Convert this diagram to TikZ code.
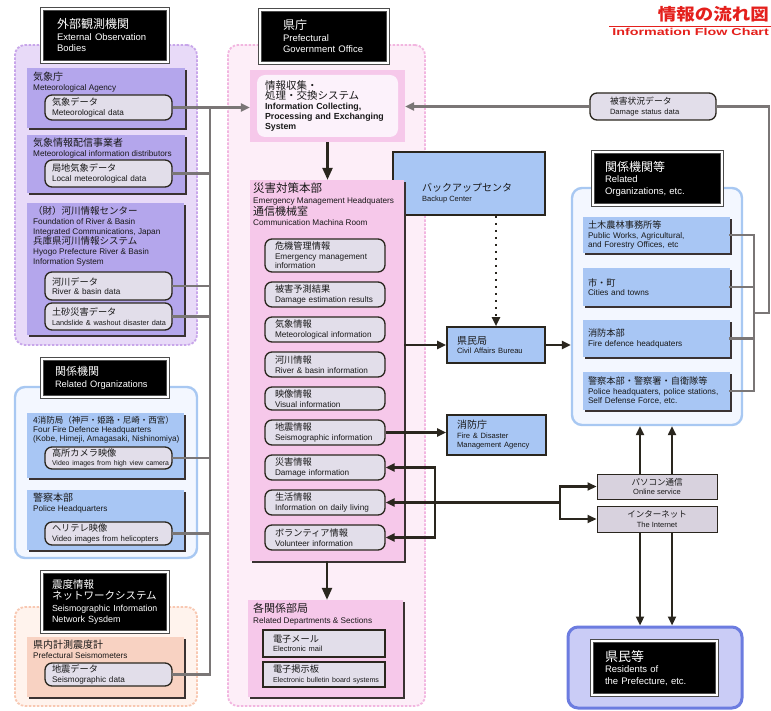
\documentclass[tikz,border=0pt]{standalone}
\usepackage{fontspec}
\usepackage{graphicx}
\setmainfont{Liberation Sans}
\newfontfamily\jpf{Noto Sans CJK JP}
\usetikzlibrary{arrows.meta,shadows}
\definecolor{darkc}{HTML}{2A261E}
\definecolor{greyc}{HTML}{7A7676}
\definecolor{shadowc}{HTML}{3A3232}
\definecolor{pillc}{HTML}{E2DEEA}
\definecolor{purpG}{HTML}{E8DAF8}
\definecolor{purpB}{HTML}{C8A6EA}
\definecolor{purpI}{HTML}{B4A6EC}
\definecolor{blueG}{HTML}{F3F7FF}
\definecolor{blueB}{HTML}{A8C8F2}
\definecolor{blueI}{HTML}{A8C6F4}
\definecolor{peachG}{HTML}{FFF3ED}
\definecolor{peachB}{HTML}{F8C8B2}
\definecolor{peachI}{HTML}{F8D2C2}
\definecolor{pinkG}{HTML}{FDEEF8}
\definecolor{pinkB}{HTML}{F2B6E0}
\definecolor{pinkI}{HTML}{F6C8EA}
\definecolor{pinkL}{HTML}{FCF2FB}
\definecolor{resG}{HTML}{CACCF6}
\definecolor{resB}{HTML}{6C7CE0}
\definecolor{redT}{HTML}{E4201C}
\definecolor{onlc}{HTML}{D8D2DE}
\newcommand{\JJ}[2][9.2]{\mbox{\jpf\mdseries\fontsize{#1}{10}\selectfont #2}}
\newcommand{\EE}[2][8.2]{\mbox{\fontsize{#1}{10}\selectfont #2}}
\tikzset{
 every node/.style={inner sep=0pt, text=black!90, font=\fontsize{8.2}{10}\selectfont},
 grp/.style={rounded corners=10pt, line width=1.8pt},
 grpdash/.style={grp, dash pattern=on 2.5pt off 1.5pt},
 ttl/.style={fill=black, draw=black!70, double=white, double distance=2.4pt, line width=0.9pt, text=white, align=left, font=\fontsize{9.5}{11.5}\selectfont},
 shb/.style={drop shadow={shadow xshift=2pt, shadow yshift=-2pt, fill=shadowc, opacity=1}},
 lbl/.style={anchor=north west, align=left, font=\fontsize{8.2}{10}\selectfont},
 pill/.style={draw=darkc, line width=1.3pt, fill=pillc, rounded corners=7pt, align=left, font=\fontsize{8.2}{9.5}\selectfont},
 lp/.style={pill, minimum width=127, minimum height=25, text width=113},
 hp/.style={pill, minimum width=120, minimum height=25, text width=100},
 rbx/.style={draw=darkc, line width=1.1pt, fill=pillc, align=left, drop shadow={shadow xshift=1pt, shadow yshift=-1pt, fill=shadowc, opacity=1}, font=\fontsize{8.2}{9.5}\selectfont},
 rb/.style={shb, fill=blueI, minimum width=147, text width=137, align=left, font=\fontsize{8.2}{9.5}\selectfont},
 bb/.style={draw=darkc, line width=1.6pt, fill=blueI, align=left, font=\fontsize{8.2}{9.5}\selectfont},
 gline/.style={draw=greyc, line width=2.2pt, line cap=rect},
 garr/.style={draw=greyc, line width=2.2pt, -{Triangle[length=9pt,width=8pt]}},
 dline/.style={draw=darkc, line width=2.2pt, line cap=rect},
 darr/.style={draw=darkc, line width=2.2pt, -{Triangle[length=9pt,width=8pt]}},
 bigarr/.style={draw=darkc, line width=2.4pt, -{Triangle[length=12pt,width=10pt]}},
}
\begin{document}
\begin{tikzpicture}[x=1pt,y=-1pt]
\useasboundingbox (0,0) rectangle (771,711);
\clip (0,0) rectangle (771,711);
\fill[white] (0,0) rectangle (771,711);

% ---------- groups ----------
\node[grpdash, draw=purpB, fill=purpG, minimum width=182, minimum height=300] (gA) at (106,195) {};
\node[grp, draw=blueB, fill=blueG, line width=2.4pt, minimum width=182, minimum height=171] (gB) at (106,472.5) {};
\node[grpdash, draw=peachB, fill=peachG, minimum width=182, minimum height=99] (gC) at (106,656.5) {};
\node[grpdash, draw=pinkB, fill=pinkG, minimum width=197, minimum height=661] (gP) at (326.5,375.5) {};
\node[grp, draw=blueB, fill=blueG, line width=2.4pt, minimum width=170, minimum height=237] (gR) at (657,306.5) {};
\node[grp, draw=resB, fill=resG, line width=3pt, minimum width=174, minimum height=81] (gRes) at (655,667.5) {};

% ---------- backup center (under HQ) ----------
\node[bb, minimum width=152, minimum height=63] (bk) at (469,183.5) {};
\node[lbl] (bkt) at (422,183) {\JJ[10]{バックアップセンタ}\\\EE[7.5]{Backup Center}};

% ---------- titles ----------
\node[ttl, minimum width=126, minimum height=53, text width=96] (tA) at (105,35.5) {\JJ[12]{外部観測機関}\\\EE[9.5]{External Observation}\\\EE[9.5]{Bodies}};
\node[ttl, minimum width=126, minimum height=38, text width=100] (tB) at (105,378) {\JJ[11]{関係機関}\\\EE[9.3]{Related Organizations}};
\node[ttl, minimum width=126, minimum height=60, text width=106] (tC) at (105,602) {\JJ[10.5]{震度情報}\\\JJ[10.5]{ネットワークシステム}\\\EE[8.8]{Seismographic Information}\\\EE[9]{Network Sysdem}};
\node[ttl, minimum width=128, minimum height=53, text width=82] (tP) at (324,36.5) {\JJ[12]{県庁}\\\EE[9.5]{Prefectural}\\\EE[9.5]{Government Office}};
\node[ttl, minimum width=129, minimum height=53, text width=105] (tR) at (657.5,178.5) {\JJ[12]{関係機関等}\\\EE[9.5]{Related}\\\EE[9.5]{Organizations, etc.}};
\node[ttl, minimum width=125, minimum height=54, text width=99] (tRes) at (654.5,668) {\JJ[13]{県民等}\\\EE[9.5]{Residents of}\\\EE[9.5]{the Prefecture, etc.}};

% ---------- left: external observation ----------
\node[shb, fill=purpI, minimum width=158, minimum height=60] (a1) at (106,98) {};
\node[lbl] (a1t) at (33,72) {\JJ[10]{気象庁}\\\EE{Meteorological Agency}};
\node[lp] (md) at (108.5,107.5) {\JJ{気象データ}\\\EE{Meteorological data}};
\node[shb, fill=purpI, minimum width=158, minimum height=58] (a2) at (106,164) {};
\node[lbl] (a2t) at (33,138) {\JJ[10]{気象情報配信事業者}\\\EE{Meteorological information distributors}};
\node[lp, minimum height=27] (ld) at (108.5,173.5) {\JJ{局地気象データ}\\\EE{Local meteorological data}};
\node[shb, fill=purpI, minimum width=157, minimum height=132] (a3) at (105.5,269) {};
\node[lbl] (a3t) at (33,206) {\JJ[9.5]{（財）河川情報センター}\\\EE{Foundation of River \& Basin}\\\EE{Integrated Communications, Japan}\\\JJ[9.5]{兵庫県河川情報システム}\\\EE{Hyogo Prefecture River \& Basin}\\\EE{Information System}};
\node[lp, minimum height=28] (rd) at (108.5,286) {\JJ{河川データ}\\\EE{River \& basin data}};
\node[lp, minimum height=27] (ls) at (108.5,316.5) {\JJ{土砂災害データ}\\\EE[7.3]{Landslide \& washout disaster data}};

% ---------- left: related organizations ----------
\node[shb, fill=blueI, minimum width=157, minimum height=65] (b1) at (105.5,445.5) {};
\node[lbl, font=\fontsize{8.2}{9}\selectfont] (b1t) at (33,416) {\JJ[8.5]{4消防局（神戸・姫路・尼崎・西宮）}\\\EE{Four Fire Defence Headquarters}\\\EE{(Kobe, Himeji, Amagasaki, Nishinomiya)}};
\node[lp, minimum height=22] (hc) at (108.5,458) {\JJ{高所カメラ映像}\\\EE[6.9]{Video images from high view camera}};
\node[shb, fill=blueI, minimum width=157, minimum height=60] (b2) at (105.5,520) {};
\node[lbl] (b2t) at (33,493) {\JJ[10]{警察本部}\\\EE{Police Headquarters}};
\node[lp, minimum height=23] (hel) at (108.5,533.5) {\JJ{ヘリテレ映像}\\\EE[7.8]{Video images from helicopters}};

% ---------- left: seismographic ----------
\node[shb, fill=peachI, minimum width=157, minimum height=60] (c1) at (105.5,667) {};
\node[lbl] (c1t) at (33,640) {\JJ[10]{県内計測震度計}\\\EE{Prefectural Seismometers}};
\node[lp, minimum height=23] (sd) at (108.5,674.5) {\JJ{地震データ}\\\EE{Seismographic data}};

% ---------- center ----------
\node[fill=pinkI, minimum width=155, minimum height=72] (info) at (327.5,106) {};
\node[fill=pinkL, rounded corners=8pt, minimum width=141, minimum height=62, text width=125, align=left, font=\bfseries\fontsize{8.8}{10.2}\selectfont] (infot) at (327.5,106) {\JJ[10.5]{情報収集・}\\\JJ[10.5]{処理・交換システム}\\\EE[8.8]{Information Collecting,}\\\EE[8.8]{Processing and Exchanging}\\\EE[8.8]{System}};

\node[shb, fill=pinkI, minimum width=154, minimum height=381] (hq) at (327,370.5) {};
\node[lbl, font=\fontsize{8.2}{10.5}\selectfont] (hqt) at (253,183) {\JJ[11.5]{災害対策本部}\\\EE{Emergency Management Headquaters}\\\JJ[11]{通信機械室}\\\EE{Communication Machina Room}};
\node[hp, minimum height=33] (p1) at (325,255.5) {\JJ{危機管理情報}\\\EE{Emergency management}\\\EE{information}};
\node[hp] (p2) at (325,294.5) {\JJ{被害予測結果}\\\EE{Damage estimation results}};
\node[hp] (p3) at (325,329.5) {\JJ{気象情報}\\\EE{Meteorological information}};
\node[hp] (p4) at (325,364.5) {\JJ{河川情報}\\\EE{River \& basin information}};
\node[hp, minimum height=23] (p5) at (325,398.5) {\JJ{映像情報}\\\EE{Visual information}};
\node[hp] (p6) at (325,432.5) {\JJ{地震情報}\\\EE{Seismographic information}};
\node[hp] (p7) at (325,467.5) {\JJ{災害情報}\\\EE{Damage information}};
\node[hp] (p8) at (325,502.5) {\JJ{生活情報}\\\EE{Information on daily living}};
\node[hp] (p9) at (325,537.5) {\JJ{ボランティア情報}\\\EE{Volunteer information}};

\node[shb, fill=pinkI, minimum width=155, minimum height=97] (dp) at (325.5,648.5) {};
\node[lbl, font=\fontsize{8.2}{10.5}\selectfont] (dpt) at (253,603) {\JJ[11]{各関係部局}\\\EE{Related Departments \& Sections}};
\node[rbx, minimum width=122, minimum height=27, text width=102] (em) at (324,643.5) {\JJ{電子メール}\\\EE[7.5]{Electronic mail}};
\node[rbx, minimum width=122, minimum height=25, text width=102] (eb) at (324,674.5) {\JJ{電子掲示板}\\\EE[7.1]{Electronic bulletin board systems}};

% ---------- right ----------
\node[bb, minimum width=98, minimum height=36, text width=78] (cv) at (496,345) {\JJ[10]{県民局}\\\EE[7.6]{Civil Affairs Bureau}};
\node[bb, minimum width=99, minimum height=40, text width=79] (fd) at (496.5,435) {\JJ[10]{消防庁}\\\EE[7.6]{Fire \& Disaster}\\\EE[7.6]{Management Agency}};
\node[pill, minimum width=126, minimum height=27, text width=86] (dmg) at (653,106.5) {\JJ[8.8]{被害状況データ}\\\EE[7.6]{Damage status data}};

\node[rb, minimum height=36] (r1) at (656.5,235) {\JJ{土木農林事務所等}\\\EE{Public Works, Agricultural,}\\\EE{and Forestry Offices, etc}};
\node[rb, minimum height=38] (r2) at (656.5,287) {\JJ{市・町}\\\EE{Cities and towns}};
\node[rb, minimum height=37] (r3) at (656.5,338.5) {\JJ{消防本部}\\\EE{Fire defence headquaters}};
\node[rb, minimum height=38] (r4) at (656.5,391) {\JJ{警察本部・警察署・自衛隊等}\\\EE{Police headquaters, police stations,}\\\EE{Self Defense Force, etc.}};

\node[draw=darkc, line width=1pt, fill=onlc, minimum width=120, minimum height=25, align=center, font=\fontsize{8}{9.5}\selectfont] (on) at (657,486.5) {\JJ[8.5]{パソコン通信}\\\EE[7.5]{Online service}};
\node[draw=darkc, line width=1pt, fill=onlc, minimum width=120, minimum height=26, align=center, font=\fontsize{8}{9.5}\selectfont] (inet) at (657,519) {\JJ[8.5]{インターネット}\\\EE[7.5]{The Internet}};

% ---------- grey connectors ----------
\coordinate (busT) at (210,107.5);
\coordinate (busB) at (210,674.5);
\draw[gline] (busT) -- (busB);
\draw[garr] (md.east) -- (md.east -| info.west);
\foreach \n in {ld,rd,ls,hc,hel,sd} \draw[gline] (\n.east) -- (\n.east -| busT);
\draw[garr] (dmg.west) -- (dmg.west -| info.east);
\coordinate (rc) at (769,313);
\coordinate (brT) at (754,235);
\coordinate (brB) at (754,391);
\draw[gline] (dmg.east) -| (rc) -- (rc -| brT);
\draw[gline] (brT) -- (brB);
\foreach \n in {r1,r2,r3,r4} \draw[gline] (\n.east) -- (\n.east -| brT);

% ---------- dark connectors ----------
\draw[bigarr] (info.south) -- (info.south |- hq.north);
\draw[bigarr] (hq.south) -- (hq.south |- dp.north);
\draw[darr] (cv.west -| hq.east) -- (cv.west);
\draw[darr] (cv.east) -- (cv.east -| gR.west);
\draw[darr] (p6.east) -- (p6.east -| fd.west);
\draw[draw=darkc, line width=2pt, dash pattern=on 2pt off 5pt, -{Triangle[length=9pt,width=8pt]}] (bk.south -| cv.north) -- (cv.north);
\coordinate (bx) at (435,0);
\coordinate (fx) at (560,0);
\draw[dline] (p7.east -| bx) -- (p9.east -| bx);
\foreach \n in {p7,p8,p9} \draw[darr] (\n.east -| bx) -- (\n.east);
\draw[dline] (p8.east -| bx) -- (p8.east -| fx);
\draw[dline] (on.west -| fx) -- (inet.west -| fx);
\draw[darr] (on.west -| fx) -- (on.west);
\draw[darr] (inet.west -| fx) -- (inet.west);
\coordinate (vx1) at (640,0);
\coordinate (vx2) at (672,0);
\foreach \v in {vx1,vx2} {
  \draw[darr] (on.north -| \v) -- (gR.south -| \v);
  \draw[darr] (inet.south -| \v) -- (gRes.north -| \v);
}

% ---------- page title ----------
\node[anchor=north east, text=redT] (ttlJ) at (769,6) {\scalebox{1.12}[1]{\jpf\bfseries\fontsize{16.5}{16.5}\selectfont 情報の流れ図}};
\draw[redT, line width=1pt] (609,26.5) -- (771,26.5);
\node[anchor=north east, text=redT] (ttlE) at (769,28) {\scalebox{1.43}[1]{\bfseries\fontsize{10}{10}\selectfont Information Flow Chart}};
\end{tikzpicture}
\end{document}
